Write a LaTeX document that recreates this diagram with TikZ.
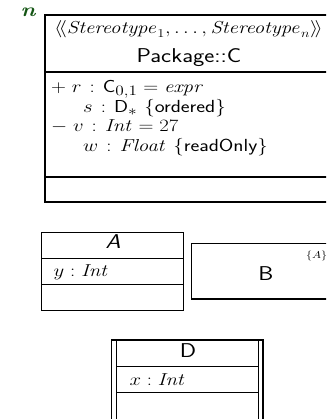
\documentclass[tikz,border=0pt]{standalone}
\usepackage{graphicx}
\newcommand{\hs}[1]{\scalebox{1.2}[1]{#1}}
\newcommand{\wcol}{\mathrel{\mkern2mu:\mkern2mu}}
\newcommand{\smsf}[1]{{\fontsize{17.5}{20}\selectfont\sffamily #1}}
\begin{document}
\begin{tikzpicture}[x=1pt,y=-1pt,
  thick line/.style={line width=1.3pt},
  thin line/.style={line width=0.7pt},
  txt/.style={inner sep=0pt,font=\fontsize{16.7}{20}\selectfont},
  row/.style={inner sep=0pt,anchor=base west,font=\fontsize{19}{22}\selectfont},
  smallrow/.style={inner sep=0pt,anchor=base west,font=\fontsize{18}{22}\selectfont},
  cname/.style={inner sep=0pt,anchor=base,font=\fontsize{20}{24}\selectfont\sffamily}]
\useasboundingbox (0,0) rectangle (326,419);
\clip (0,0) rectangle (326,419);
% green mark
\node[inner sep=0pt,anchor=base,text={rgb,255:red,20;green,85;blue,20}] (mark) at (28,17) {\fontsize{19}{20}\selectfont\hs{\bfseries\itshape n}};
% class C
\draw[thick line] (45,15) rectangle (340,202);
\draw[thick line] (45,72) -- (340,72);
\draw[thick line] (45,177) -- (340,177);
\node[txt,anchor=base] (stereo) at (188.5,33.5) {\hs{$\langle\!\langle \mathit{Stereotype}_1,\ldots,\mathit{Stereotype}_n\rangle\!\rangle$}};
\node[cname] (cnm) at (189,62.5) {\hs{Package::C}};
\node[row] (r) at (51,92.5) {\hs{$+\;r \wcol \mathsf{C}_{0,1} = \mathit{expr}$}};
\node[row] (s) at (83,112.5) {\hs{$s \wcol \mathsf{D}_{*}$ \smsf{\{ordered\}}}};
\node[row] (v) at (51,131.5) {\hs{$-\;v \wcol \mathit{Int} = 27$}};
\node[row] (w) at (83,151.5) {\hs{$w \wcol \mathit{Float}$ \smsf{\{readOnly\}}}};
% class A
\draw[thick line] (41.7,232.3) rectangle (183.7,310.7);
\draw[thin line] (41.7,258.3) -- (183.7,258.3);
\draw[thick line] (41.7,284.3) -- (183.7,284.3);
\node[cname,font=\fontsize{20}{24}\selectfont\sffamily\itshape] (anm) at (113,248.3) {\hs{A}};
\node[smallrow] (y) at (53.5,276.5) {\hs{$y : \mathit{Int}$}};
% class B
\draw[thick line] (191.7,243.3) rectangle (340,299);
\node[cname] (bnm) at (266,280) {\hs{B}};
\node[inner sep=0pt,anchor=base west,font=\fontsize{10}{12}\selectfont] (tmpl) at (306,258) {\hs{$\{A\}$}};
% class D (active)
\draw[thick line] (111.7,340) rectangle (263,419.5);
\draw[thick line] (116.3,340) -- (116.3,419.5);
\draw[thick line] (258.3,340) -- (258.3,419.5);
\draw[thin line] (116.3,366.7) -- (258.3,366.7);
\draw[thick line] (116.3,392.7) -- (258.3,392.7);
\node[cname] (dnm) at (188,357.7) {\hs{D}};
\node[smallrow] (x) at (129.3,385) {\hs{$x : \mathit{Int}$}};
\end{tikzpicture}
\end{document}
